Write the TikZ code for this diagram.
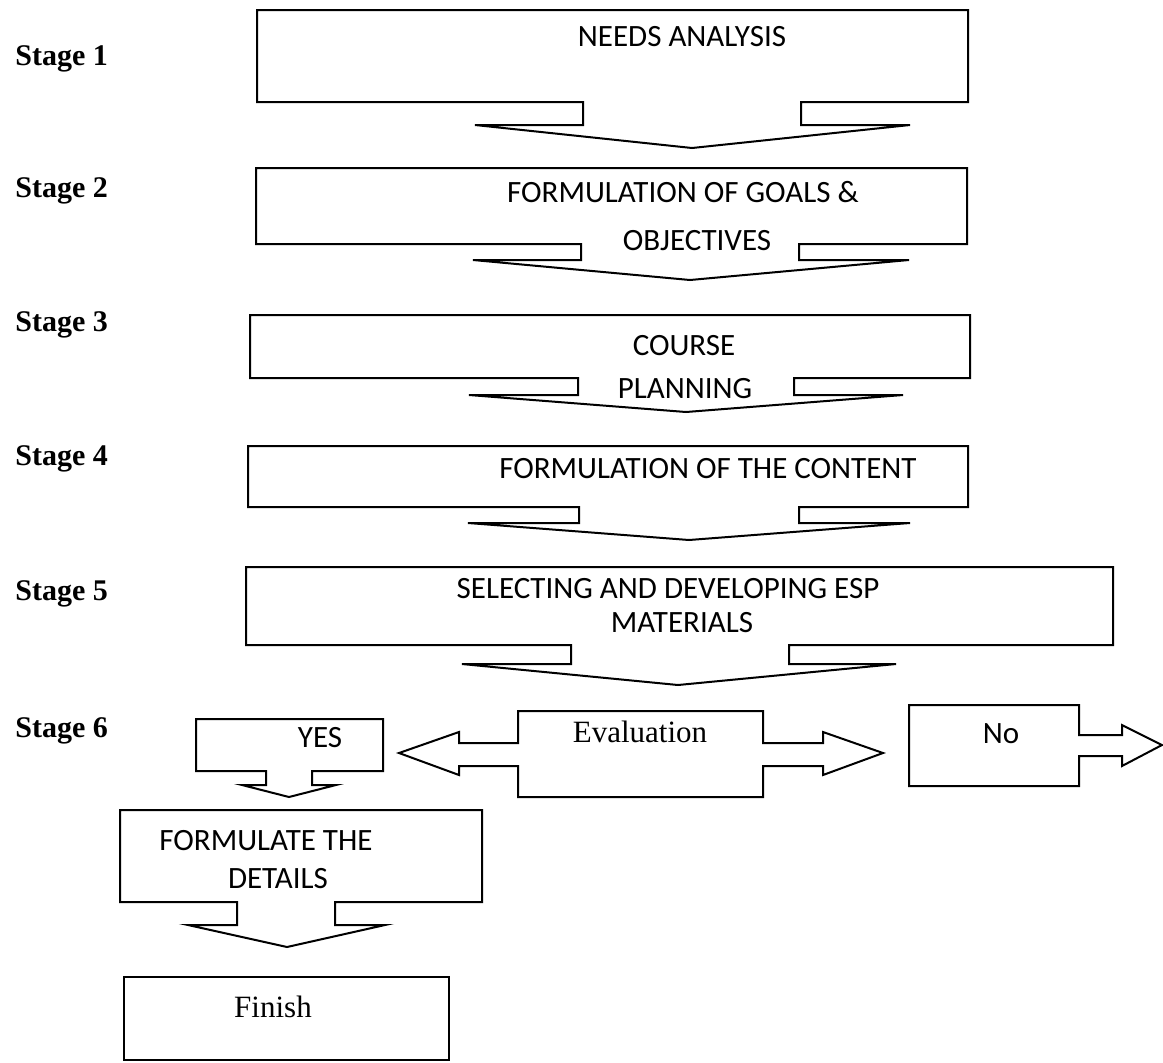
\documentclass[tikz,border=0pt]{standalone}
\usepackage{fontspec}
\setmainfont{Liberation Serif}
\newfontfamily\calibri{Carlito}
\usepackage{tikz}
\tikzset{stage/.style={anchor=base west, inner sep=0pt, font=\fontsize{15}{18}\selectfont\bfseries}}
\tikzset{caps/.style={anchor=base, font=\calibri\fontsize{15.5}{18}\selectfont}}
\tikzset{serif/.style={anchor=base, font=\fontsize{15.5}{18}\selectfont}}
\tikzset{outline/.style={draw, line width=1pt, line join=miter}}

\begin{document}
\begin{tikzpicture}[x=0.5pt, y=-0.5pt]
    \useasboundingbox (0,0) rectangle (1163,1062);

    \node[stage] at (15,65) (s1){Stage 1};
    \node[stage] at (15,197) (s2){Stage 2};
    \node[stage] at (15,331) (s3){Stage 3};
    \node[stage] at (15,465) (s4){Stage 4};
    \node[stage] at (15,600) (s5){Stage 5};
    \node[stage] at (15,737) (s6){Stage 6};

    \draw[outline] (257,10) -- (968,10) -- (968,102) -- (801,102) -- (801,125) -- (910,125) -- (692,148) -- (475,125) -- (583,125) -- (583,102) -- (257,102) -- cycle;
    \draw[outline] (256,168) -- (967,168) -- (967,244) -- (799,244) -- (799,260) -- (909,260) -- (690,280) -- (473,260) -- (581,260) -- (581,244) -- (256,244) -- cycle;
    \draw[outline] (250,315) -- (970,315) -- (970,378) -- (794,378) -- (794,395) -- (903,395) -- (686,412) -- (469,395) -- (578,395) -- (578,378) -- (250,378) -- cycle;
    \draw[outline] (248,446) -- (968,446) -- (968,507) -- (799,507) -- (799,523) -- (910,523) -- (689,540) -- (468,523) -- (579,523) -- (579,507) -- (248,507) -- cycle;
    \draw[outline] (246,567) -- (1113,567) -- (1113,645) -- (789,645) -- (789,664) -- (896,664) -- (678,685) -- (462,664) -- (571,664) -- (571,645) -- (246,645) -- cycle;

    \node[caps] at (682,46) (needs){NEEDS ANALYSIS};
    \node[caps] at (683,202) (goals){FORMULATION OF GOALS \&};
    \node[caps] at (697,250) (obj){OBJECTIVES};
    \node[caps] at (684,355) (course){COURSE};
    \node[caps] at (685,398) (plan){PLANNING};
    \node[caps] at (708,478) (content){FORMULATION OF THE CONTENT};
    \node[caps] at (668,598) (select){SELECTING AND DEVELOPING ESP};
    \node[caps] at (682,632) (mat){MATERIALS};

    \draw[outline] (196,719) -- (383,719) -- (383,771) -- (312,771) -- (312,785) -- (336,785) -- (289,797) -- (242,785) -- (266,785) -- (266,771) -- (196,771) -- cycle;
    \draw[outline] (518,711) -- (763,711) -- (763,743) -- (823,743) -- (823,732) -- (883,753) -- (823,775) -- (823,766) -- (763,766) -- (763,797) -- (518,797) -- (518,766) -- (459,766) -- (459,775) -- (399,753) -- (459,732) -- (459,743) -- (518,743) -- cycle;
    \draw[outline] (909,705) -- (1079,705) -- (1079,735) -- (1122,735) -- (1122,725) -- (1162,745) -- (1122,766) -- (1122,756) -- (1079,756) -- (1079,786) -- (909,786) -- cycle;

    \node[caps] at (320,747) (yes){YES};
    \node[serif] at (640,742) (eval){Evaluation};
    \node[caps] at (1001,743) (no){No};

    \draw[outline] (120,810) -- (482,810) -- (482,902) -- (335,902) -- (335,925) -- (385,925) -- (287,947) -- (188,925) -- (237,925) -- (237,902) -- (120,902) -- cycle;
    \node[caps] at (266,850) (details1){FORMULATE THE};
    \node[caps] at (278,888) (details2){DETAILS};

    \draw[outline] (124,977) rectangle (449,1060);
    \node[serif] at (273,1017) (finish){Finish};
\end{tikzpicture}
\end{document}
